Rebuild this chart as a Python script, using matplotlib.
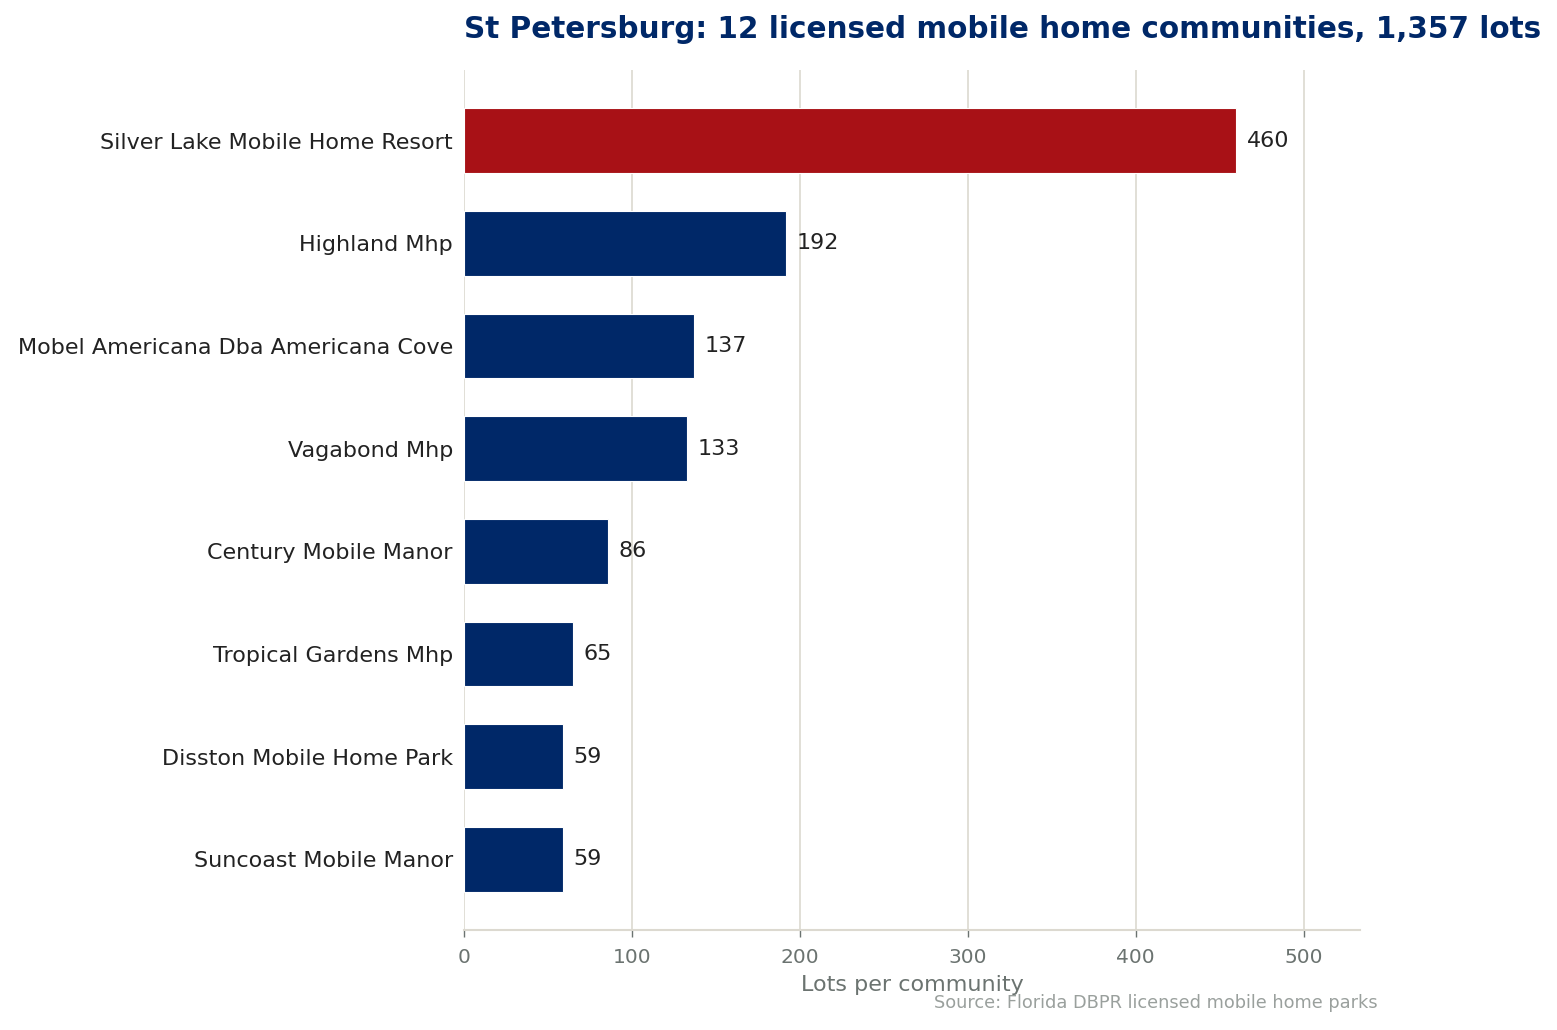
import matplotlib
matplotlib.use("Agg")
import matplotlib.pyplot as plt

names = ["Silver Lake Mobile Home Resort", "Highland Mhp",
         "Mobel Americana Dba Americana Cove", "Vagabond Mhp",
         "Century Mobile Manor", "Tropical Gardens Mhp",
         "Disston Mobile Home Park", "Suncoast Mobile Manor"]
lots = [460, 192, 137, 133, 86, 65, 59, 59]

navy = "#002868"
red = "#a81116"
grid_col = "#dcd9d0"
grey = "#6b7370"

fig = plt.figure(figsize=(15.57, 10.30), dpi=100)
ax = fig.add_axes([464 / 1557, 1 - 930 / 1030, (1360 - 464) / 1557, (930 - 70) / 1030])

colors = [red] + [navy] * (len(lots) - 1)
ypos = list(range(len(lots)))[::-1]
ax.barh(ypos, lots, height=0.63, color=colors, edgecolor="white", linewidth=0.8, zorder=3)

for y, v in zip(ypos, lots):
    ax.text(v + 6, y, str(v), va="center", ha="left", fontsize=16, color="#222222")

ax.set_yticks(ypos)
ax.set_yticklabels(names, fontsize=16, color="#222222")
ax.set_ylim(-0.687, len(lots) - 1 + 0.687)
ax.tick_params(axis="y", length=0, pad=8)
ax.tick_params(axis="x", colors=grey, labelsize=14.5, length=5, width=1, pad=8)
ax.set_xlim(0, max(lots) * 1.16)
ax.set_xticks([0, 100, 200, 300, 400, 500])
ax.grid(axis="x", color=grid_col, linewidth=1.2, zorder=0)
for s in ["top", "right", "left"]:
    ax.spines[s].set_visible(False)
ax.spines["bottom"].set_color(grid_col)
ax.spines["bottom"].set_linewidth(1.5)
ax.set_xlabel("Lots per community", fontsize=16, color=grey, labelpad=6)

fig.text(464 / 1557, 1 - 30 / 1030, "St Petersburg: 12 licensed mobile home communities, 1,357 lots",
         fontsize=21.25, fontweight="bold", color=navy, ha="left", va="center")
fig.text(1378 / 1557, 1 - 1003 / 1030, "Source: Florida DBPR licensed mobile home parks",
         fontsize=12.75, color="#9aa09d", ha="right", va="center")

fig.savefig("out.png", dpi=100)
